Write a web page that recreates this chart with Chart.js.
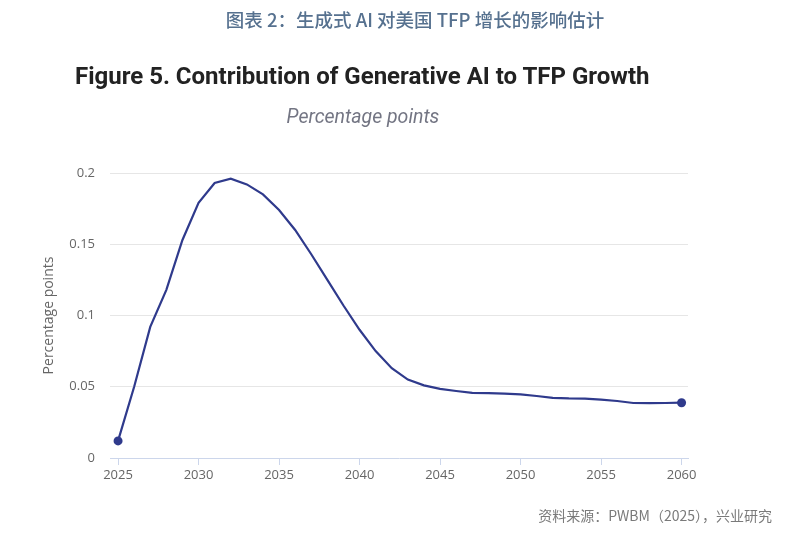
<!DOCTYPE html>
<html lang="zh">
  <head>
    <meta charset="UTF-8" />
    <title>Contribution of Generative AI to TFP Growth</title>
    <script src="https://cdn.jsdelivr.net/npm/chart.js"></script>
    <style>
      html, body { margin: 0; padding: 0; background: #fff; }
      .wrap { position: relative; width: 789px; height: 533px; overflow: hidden; }
      canvas { position: absolute; left: 0; top: 0; }
      .cap { position: absolute; left: 0; width: 830px; top: 6px; text-align: center;
        font-family: "Noto Sans CJK SC", sans-serif; font-size: 18.5px; font-weight: 500; color: #56718f; }
      .fig { position: absolute; left: 75px; top: 62px; white-space: nowrap;
        font-family: Roboto, sans-serif; font-weight: bold; font-size: 24px; color: #222; }
      .sub { position: absolute; left: 0; width: 726px; top: 105px; text-align: center;
        font-family: Roboto, sans-serif; font-style: italic; font-size: 19.5px; color: #737583; }
      .src { position: absolute; right: 17px; top: 505px;
        font-family: "Noto Sans CJK SC", sans-serif; font-size: 14px; color: #7a7a7a; }
    </style>
  </head>
  <body>
    <div class="wrap">
      <canvas id="tfpChart" width="789" height="533"></canvas>
      <div class="cap">图表 2：生成式 AI 对美国 TFP 增长的影响估计</div>
      <div class="fig">Figure 5. Contribution of Generative AI to TFP Growth</div>
      <div class="sub">Percentage points</div>
      <div class="src">资料来源：PWBM（2025），兴业研究</div>
    </div>
    <script>
      // yearly contribution
      const years = [
        2025, 2026, 2027, 2028, 2029, 2030, 2031, 2032, 2033, 2034, 2035, 2036,
        2037, 2038, 2039, 2040, 2041, 2042, 2043, 2044, 2045, 2046, 2047, 2048,
        2049, 2050, 2051, 2052, 2053, 2054, 2055, 2056, 2057, 2058, 2059, 2060,
      ];
      const tfpContribution = [
        0.012, 0.05, 0.092, 0.118, 0.153, 0.179, 0.193, 0.196, 0.192, 0.185,
        0.174, 0.16, 0.143, 0.125, 0.107, 0.09, 0.075, 0.063, 0.055, 0.051,
        0.0485, 0.047, 0.0457, 0.0455, 0.0452, 0.0446, 0.0435, 0.0422, 0.0418,
        0.0417, 0.041, 0.04, 0.0386, 0.0385, 0.0386, 0.0388,
      ];
      const xTicks = [2025, 2030, 2035, 2040, 2045, 2050, 2055, 2060];
      const yTicks = [0, 0.05, 0.1, 0.15, 0.2];
      const yTickLabels = ["0", "0.05", "0.1", "0.15", "0.2"];

      const lineColor = "#2f3a8c";
      const last = years.length - 1;

      Chart.defaults.font.family = "'Open Sans', sans-serif";
      Chart.defaults.color = "#666";

      new Chart(document.getElementById("tfpChart"), {
        type: "line",
        data: {
          datasets: [
            {
              data: years.map((yr, i) => ({ x: yr, y: tfpContribution[i] })),
              borderColor: lineColor,
              backgroundColor: lineColor,
              borderWidth: 2.2,
              tension: 0,
              pointRadius: years.map((_, i) => (i === 0 || i === last ? 4.5 : 0)),
              pointBorderWidth: 0,
            },
          ],
        },
        options: {
          responsive: false,
          animation: false,
          layout: { padding: { left: 40, right: 101, top: 173, bottom: 0 } },
          plugins: { legend: { display: false }, tooltip: { enabled: false } },
          scales: {
            x: {
              type: "linear",
              min: 2024.5,
              max: 2060.4,
              afterBuildTicks: (s) => {
                s.ticks = xTicks.map((v) => ({ value: v }));
              },
              afterFit: (s) => {
                s.height = 75;
              },
              grid: {
                drawOnChartArea: false,
                drawTicks: true,
                tickLength: 7,
                color: "#ccd6eb",
              },
              border: { display: true, color: "#ccd6eb", width: 1 },
              ticks: {
                padding: 2,
                maxRotation: 0,
                font: { size: 13 },
                callback: (v) => String(v),
              },
            },
            y: {
              min: 0,
              max: 0.2,
              afterBuildTicks: (s) => {
                s.ticks = yTicks.map((v) => ({ value: v }));
              },
              afterFit: (s) => {
                s.width = 70;
              },
              grid: {
                drawTicks: false,
                color: (ctx) => (ctx.tick.value === 0 ? "rgba(0,0,0,0)" : "#e6e6e6"),
              },
              border: { display: false },
              ticks: {
                padding: 15,
                font: { size: 13 },
                callback: (v, i) => yTickLabels[i],
              },
              title: {
                display: true,
                text: "Percentage points",
                color: "#666",
                font: { size: 14 },
                padding: { top: 1, bottom: 0 },
              },
            },
          },
        },
      });
    </script>
  </body>
</html>
